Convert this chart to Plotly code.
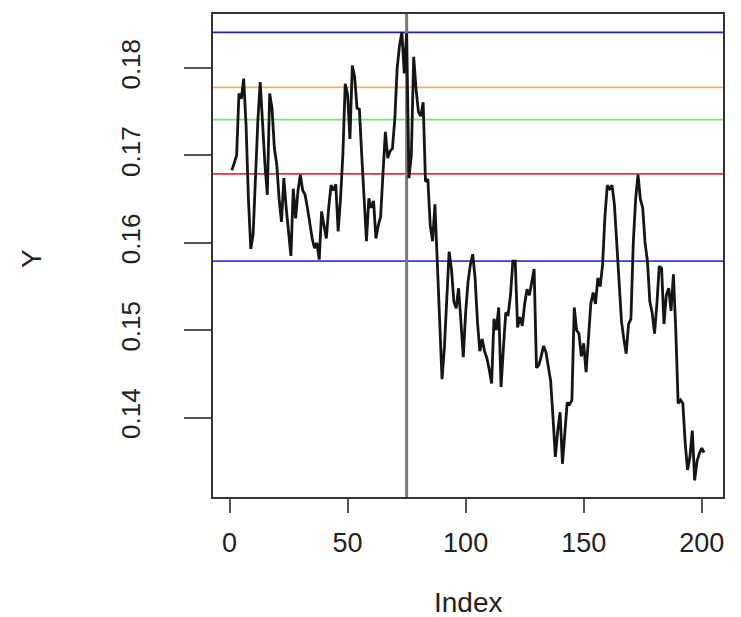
import plotly.graph_objects as go

index = list(range(1, 202))
y_values = [
    0.1683, 0.1692, 0.1700, 0.1771, 0.1765, 0.1788, 0.1735, 0.1650, 0.1593, 0.1610,
    0.1680, 0.1740, 0.1784, 0.1730, 0.1690, 0.1655, 0.1771, 0.1754, 0.1708, 0.1690,
    0.1650, 0.1624, 0.1674, 0.1640, 0.1610, 0.1585, 0.1662, 0.1628, 0.1660, 0.1678,
    0.1660, 0.1655, 0.1640, 0.1620, 0.1605, 0.1594, 0.1600, 0.1581, 0.1636, 0.1620,
    0.1605, 0.1640, 0.1666, 0.1660, 0.1667, 0.1613, 0.1650, 0.1701, 0.1782, 0.1770,
    0.1719, 0.1803, 0.1790, 0.1754, 0.1753, 0.1700, 0.1650, 0.1602, 0.1651, 0.1640,
    0.1648, 0.1605, 0.1620, 0.1630, 0.1680, 0.1727, 0.1697, 0.1705, 0.1708, 0.1742,
    0.1800, 0.1826, 0.1841, 0.1794, 0.1840, 0.1674, 0.1700, 0.1813, 0.1776, 0.1750,
    0.1745, 0.1761, 0.1670, 0.1673, 0.1620, 0.1602, 0.1644, 0.1580, 0.1520, 0.1444,
    0.1480, 0.1540, 0.1590, 0.1570, 0.1533, 0.1525, 0.1548, 0.1510, 0.1469, 0.1520,
    0.1555, 0.1575, 0.1587, 0.1560, 0.1510, 0.1476, 0.1490, 0.1476, 0.1468, 0.1455,
    0.1439, 0.1513, 0.1500, 0.1526, 0.1435, 0.1480, 0.1520, 0.1518, 0.1540, 0.1579,
    0.1579, 0.1503, 0.1515, 0.1505, 0.1530, 0.1547, 0.1540, 0.1555, 0.1570, 0.1457,
    0.1460, 0.1470, 0.1482, 0.1475, 0.1460, 0.1442, 0.1400, 0.1355, 0.1385, 0.1406,
    0.1347, 0.1380, 0.1417, 0.1415, 0.1420, 0.1526, 0.1500, 0.1496, 0.1470, 0.1485,
    0.1452, 0.1490, 0.1530, 0.1543, 0.1530, 0.1560, 0.1550, 0.1575, 0.1630, 0.1666,
    0.1662, 0.1666, 0.1644, 0.1600, 0.1550, 0.1510, 0.1490, 0.1473, 0.1507, 0.1513,
    0.1600, 0.1650, 0.1678, 0.1650, 0.1640, 0.1600, 0.1579, 0.1533, 0.1520, 0.1496,
    0.1530, 0.1573, 0.1571, 0.1507, 0.1540, 0.1548, 0.1522, 0.1564, 0.1500, 0.1416,
    0.1420, 0.1416, 0.1370, 0.1340, 0.1355, 0.1385, 0.1328, 0.1350, 0.1359, 0.1365,
    0.1360,
]

hline_values = [0.1841, 0.1778, 0.1741, 0.1679, 0.1579]
hline_colors = ["#2020b0", "#f2b266", "#7ddf7d", "#d83a3a", "#3a3ae0"]
vline_value = 75

x_ticks = [0, 50, 100, 150, 200]
y_ticks = [0.14, 0.15, 0.16, 0.17, 0.18]
y_tick_labels = ["0.14", "0.15", "0.16", "0.17", "0.18"]

FONT = "Liberation Sans, Arial, Helvetica, sans-serif"

fig = go.Figure()
fig.add_trace(go.Scatter(x=index, y=y_values, mode="lines",
                         line=dict(color="#151515", width=2.8), showlegend=False))

for v, c in zip(hline_values, hline_colors):
    fig.add_hline(y=v, line=dict(color=c, width=1.8), layer="below")
fig.add_vline(x=vline_value, line=dict(color="#7a7a7a", width=3), layer="below")

fig.update_layout(
    width=741, height=617,
    margin=dict(l=205, r=26, t=4, b=128),
    paper_bgcolor="white", plot_bgcolor="white",
    font=dict(family=FONT, color="#222222"),
    xaxis=dict(range=[-7, 209], tickvals=x_ticks, ticks="outside", ticklen=14,
               tickwidth=2, tickcolor="#555555", showline=True, mirror=True,
               linecolor="#333333", linewidth=2, showgrid=False, zeroline=False,
               tickfont=dict(size=27, family=FONT, color="#222222"),
               ticklabelstandoff=7),
    yaxis=dict(range=[0.1309, 0.1862], tickvals=y_ticks, ticktext=y_tick_labels,
               ticks="outside", ticklen=27, tickwidth=2, tickcolor="#555555",
               tickangle=-90, showline=True, mirror=True, linecolor="#333333",
               linewidth=2, showgrid=False, zeroline=False,
               tickfont=dict(size=26, family=FONT, color="#222222"),
               ticklabelstandoff=34),
    annotations=[
        dict(text="Index", xref="paper", yref="paper", x=0.5, y=-0.2186,
             xanchor="center", yanchor="middle", showarrow=False,
             font=dict(size=28, family=FONT, color="#222222")),
        dict(text="Y", xref="paper", yref="paper", x=-0.357, y=0.4948,
             xanchor="center", yanchor="middle", showarrow=False, textangle=-90,
             font=dict(size=28, family=FONT, color="#222222")),
    ],
)

fig.write_html("out.html")
